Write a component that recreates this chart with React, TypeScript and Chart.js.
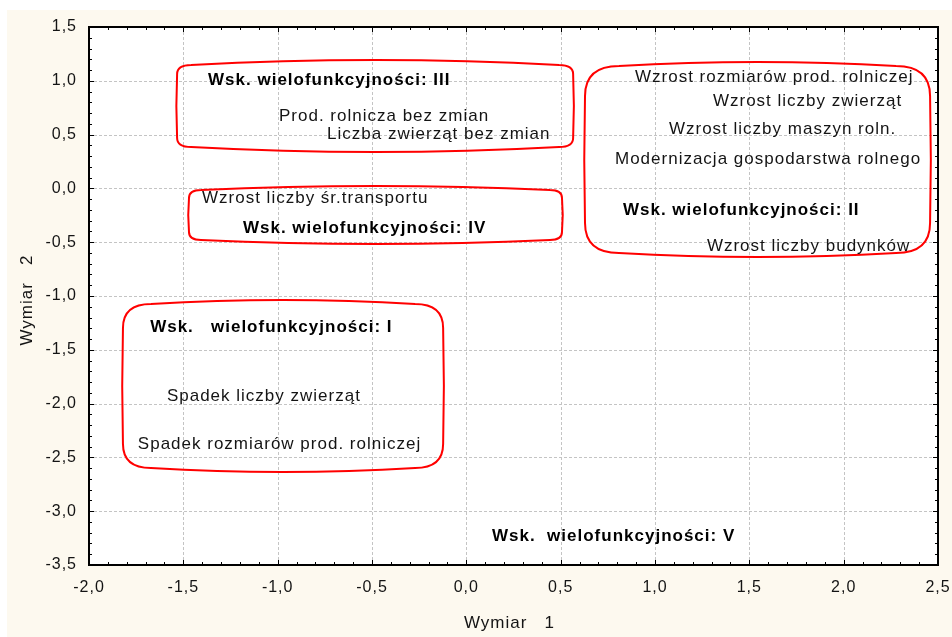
import { useEffect, useRef } from 'react';
import { Chart, registerables } from 'chart.js';

Chart.register(...registerables);

// ---- data ----
const pointLabels = [
  'Wsk. wielofunkcyjności: III',
  'Prod. rolnicza bez zmian',
  'Liczba zwierząt bez zmian',
  'Wzrost liczby śr.transportu',
  'Wsk. wielofunkcyjności: IV',
  'Wzrost rozmiarów prod. rolniczej',
  'Wzrost liczby zwierząt',
  'Wzrost liczby maszyn roln.',
  'Modernizacja gospodarstwa rolnego',
  'Wsk. wielofunkcyjności: II',
  'Wzrost liczby budynków',
  'Wsk.   wielofunkcyjności: I',
  'Spadek liczby zwierząt',
  'Spadek rozmiarów prod. rolniczej',
  'Wsk.  wielofunkcyjności: V',
];
const pointX = [-1.369, -0.993, -0.738, -1.401, -1.184, 0.894, 1.307, 1.074, 0.788, 0.83, 1.275, -1.676, -1.587, -1.741, 0.136];
const pointY = [1.007, 0.673, 0.506, -0.089, -0.368, 1.035, 0.813, 0.551, 0.273, -0.201, -0.535, -1.288, -1.929, -2.375, -3.23];
const pointBold = [true, false, false, false, true, false, false, false, false, true, false, true, false, false, true];

const groupLeft = [-1.533, -1.47, 0.629, -1.82];
const groupRight = [0.566, 0.507, 2.458, -0.123];
const groupTop = [1.193, 0.022, 1.175, -1.037];
const groupBottom = [0.338, -0.517, -0.638, -2.636];

const xMin = -2.0;
const xMax = 2.5;
const yMin = -3.5;
const yMax = 1.5;
const tickStep = 0.5;
const minorStep = 0.1;

const xTitle = 'Wymiar   1';
const yTitle = 'Wymiar   2';

// ---- styles ----
const FONT = '"Liberation Sans", Arial, sans-serif';
const groupCorner = [14, 12, 34, 28];
const groupBulge = [5, 4, 4, 4];

function fmt(v: number) {
  return Number(v).toFixed(1).replace('.', ',');
}

function blob(ctx: CanvasRenderingContext2D, L: number, T: number, R: number, B: number, r: number, b: number) {
  const cx = (L + R) / 2;
  const cy = (T + B) / 2;
  ctx.beginPath();
  ctx.moveTo(L, T + r);
  ctx.quadraticCurveTo(L, T + b, L + r, T + b);
  ctx.quadraticCurveTo(cx, T - b, R - r, T + b);
  ctx.quadraticCurveTo(R, T + b, R, T + r);
  ctx.quadraticCurveTo(R + 1.5, cy, R, B - r);
  ctx.quadraticCurveTo(R, B - b, R - r, B - b);
  ctx.quadraticCurveTo(cx, B + b, L + r, B - b);
  ctx.quadraticCurveTo(L, B - b, L, B - r);
  ctx.quadraticCurveTo(L - 1.5, cy, L, T + r);
  ctx.closePath();
  ctx.stroke();
}

const decorPlugin = {
  id: 'decor',
  beforeDraw(chart: any) {
    const ctx = chart.ctx as CanvasRenderingContext2D;
    const a = chart.chartArea;
    ctx.save();
    ctx.fillStyle = '#ffffff';
    ctx.fillRect(0, 0, chart.width, chart.height);
    ctx.fillStyle = '#fdf9ef';
    ctx.fillRect(7, 10, chart.width - 7, chart.height - 10);
    ctx.fillStyle = '#ffffff';
    ctx.fillRect(a.left, a.top, a.right - a.left, a.bottom - a.top);
    ctx.restore();
    (ctx as any).letterSpacing = '1px';
  },
  beforeDatasetsDraw(chart: any) {
    const ctx = chart.ctx as CanvasRenderingContext2D;
    const a = chart.chartArea;
    const xs = chart.scales.x;
    const ys = chart.scales.y;
    ctx.save();
    ctx.strokeStyle = '#c4c4c4';
    ctx.lineWidth = 1;
    ctx.setLineDash([3, 2]);
    for (let v = xMin + tickStep; v < xMax - 1e-9; v += tickStep) {
      const px = Math.round(xs.getPixelForValue(v)) + 0.5;
      ctx.beginPath();
      ctx.moveTo(px, a.top);
      ctx.lineTo(px, a.bottom);
      ctx.stroke();
    }
    for (let v = yMin + tickStep; v < yMax - 1e-9; v += tickStep) {
      const py = Math.round(ys.getPixelForValue(v)) + 0.5;
      ctx.beginPath();
      ctx.moveTo(a.left, py);
      ctx.lineTo(a.right, py);
      ctx.stroke();
    }
    ctx.restore();
  },
  afterDatasetsDraw(chart: any) {
    const ctx = chart.ctx as CanvasRenderingContext2D;
    const a = chart.chartArea;
    const xs = chart.scales.x;
    const ys = chart.scales.y;
    ctx.save();
    (ctx as any).letterSpacing = '1px';
    // group outlines
    ctx.strokeStyle = '#ff0000';
    ctx.lineWidth = 2;
    for (let i = 0; i < groupLeft.length; i++) {
      blob(
        ctx,
        xs.getPixelForValue(groupLeft[i]),
        ys.getPixelForValue(groupTop[i]),
        xs.getPixelForValue(groupRight[i]),
        ys.getPixelForValue(groupBottom[i]),
        groupCorner[i],
        groupBulge[i]
      );
    }
    // point labels
    ctx.textAlign = 'left';
    ctx.textBaseline = 'middle';
    const meta = chart.getDatasetMeta(0);
    meta.data.forEach((el: any, i: number) => {
      ctx.font = (pointBold[i] ? 'bold ' : '') + '17px ' + FONT;
      ctx.fillStyle = pointBold[i] ? '#000000' : '#141414';
      ctx.fillText(pointLabels[i], el.x, el.y);
    });
    // frame
    ctx.strokeStyle = '#000000';
    ctx.lineWidth = 2;
    ctx.strokeRect(a.left, a.top, a.right - a.left, a.bottom - a.top);
    // inward ticks
    ctx.lineWidth = 1;
    ctx.beginPath();
    const nx = Math.round((xMax - xMin) / minorStep);
    for (let k = 1; k < nx; k++) {
      const v = xMin + k * minorStep;
      const major = k % 5 === 0;
      const len = major ? 5 : 3;
      const px = Math.round(xs.getPixelForValue(v)) + 0.5;
      ctx.moveTo(px, a.bottom);
      ctx.lineTo(px, a.bottom - len);
      ctx.moveTo(px, a.top);
      ctx.lineTo(px, a.top + len);
    }
    const ny = Math.round((yMax - yMin) / minorStep);
    for (let k = 1; k < ny; k++) {
      const v = yMin + k * minorStep;
      const major = k % 5 === 0;
      const len = major ? 5 : 3;
      const py = Math.round(ys.getPixelForValue(v)) + 0.5;
      ctx.moveTo(a.left, py);
      ctx.lineTo(a.left + len, py);
      ctx.moveTo(a.right, py);
      ctx.lineTo(a.right - len, py);
    }
    ctx.stroke();
    // axis titles
    ctx.fillStyle = '#141414';
    ctx.font = '17px ' + FONT;
    ctx.textAlign = 'center';
    ctx.textBaseline = 'middle';
    ctx.fillText(xTitle, (a.left + a.right) / 2 - 4, 623);
    ctx.translate(27, (a.top + a.bottom) / 2 + 4);
    ctx.rotate(-Math.PI / 2);
    ctx.fillText(yTitle, 0, 0);
    ctx.restore();
  },
};

export default function App() {
  const ref = useRef<HTMLCanvasElement | null>(null);
  useEffect(() => {
    if (!ref.current) return;
    const tickFont = { family: FONT, size: 16 };
    const chart = new Chart(ref.current, {
      type: 'scatter',
      data: {
        datasets: [
          {
            data: pointX.map((x, i) => ({ x, y: pointY[i] })),
            pointRadius: 0,
            pointHoverRadius: 0,
            showLine: false,
          },
        ],
      },
      options: {
        animation: false,
        responsive: false,
        events: [],
        layout: { padding: { left: 0, top: 27, right: 14, bottom: 0 } },
        plugins: { legend: { display: false }, tooltip: { enabled: false }, title: { display: false } },
        scales: {
          x: {
            type: 'linear',
            min: xMin,
            max: xMax,
            ticks: { stepSize: tickStep, padding: 13, color: '#141414', font: tickFont, callback: (v: any) => fmt(v), maxRotation: 0, autoSkip: false },
            grid: { display: false, drawTicks: false },
            border: { display: false },
            afterFit: (s: any) => {
              s.height = 72;
              s.paddingLeft = 0;
              s.paddingRight = 0;
              s.paddingTop = 0;
              s.paddingBottom = 0;
            },
          },
          y: {
            type: 'linear',
            min: yMin,
            max: yMax,
            ticks: { stepSize: tickStep, padding: 12, color: '#141414', font: tickFont, callback: (v: any) => fmt(v), autoSkip: false },
            grid: { display: false, drawTicks: false },
            border: { display: false },
            afterFit: (s: any) => {
              s.width = 89;
              s.paddingLeft = 0;
              s.paddingRight = 0;
              s.paddingTop = 0;
              s.paddingBottom = 0;
            },
          },
        },
      } as any,
      plugins: [decorPlugin],
    });
    return () => chart.destroy();
  }, []);
  return (
    <div style={{ position: 'absolute', left: 0, top: 0, width: 952, height: 637, background: '#fff' }}>
      <canvas ref={ref} width={952} height={637} style={{ display: 'block' }} />
    </div>
  );
}
